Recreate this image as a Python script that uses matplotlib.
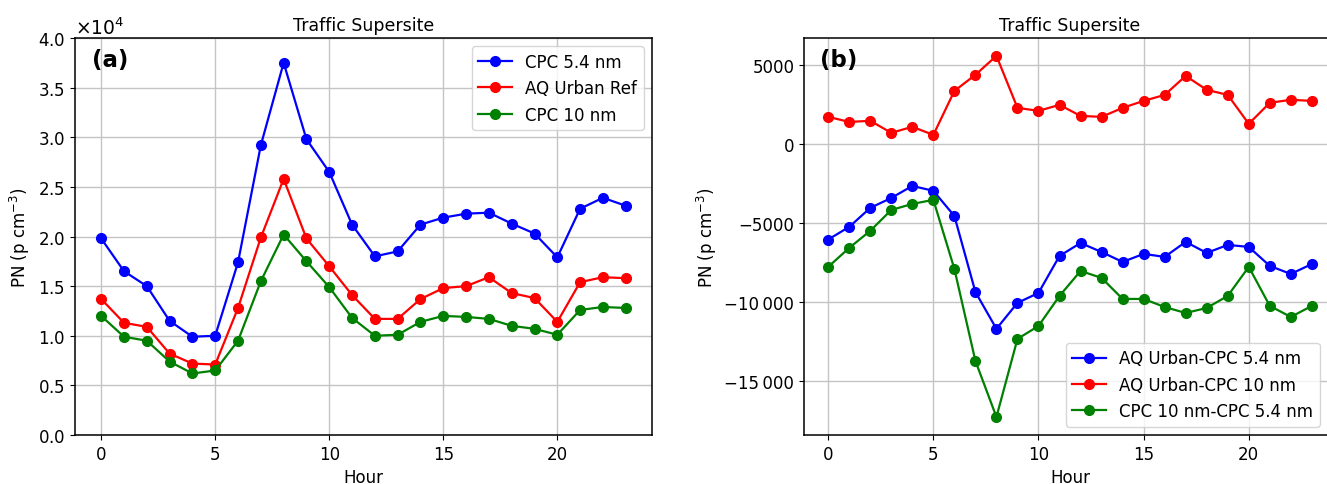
import numpy as np
import matplotlib
matplotlib.use("Agg")
import matplotlib.pyplot as plt
from matplotlib.ticker import FuncFormatter, MultipleLocator

hours = list(range(24))

# panel (a): hourly mean particle number
cpc_54 = [19800, 16500, 15000, 11500, 9900, 10000, 17400, 29200, 37500, 29800, 26500, 21200,
          18000, 18500, 21200, 21900, 22300, 22400, 21300, 20300, 17900, 22800, 23900, 23100]
aq_urban = [13700, 11300, 10900, 8200, 7200, 7100, 12800, 19900, 25800, 19800, 17000, 14100,
            11700, 11700, 13700, 14800, 15000, 15900, 14300, 13800, 11400, 15400, 15900, 15800]
cpc_10 = [12000, 9900, 9500, 7400, 6200, 6500, 9500, 15500, 20200, 17500, 14900, 11800,
          10000, 10100, 11400, 12000, 11900, 11700, 11000, 10700, 10100, 12600, 12900, 12800]

# panel (b): differences
aq_minus_54 = [-6050, -5250, -4050, -3420, -2660, -2970, -4560, -9370, -11700, -10060, -9430, -7090,
               -6270, -6840, -7470, -6960, -7150, -6200, -6900, -6390, -6520, -7720, -8230, -7600]
aq_minus_10 = [1710, 1390, 1460, 700, 1080, 570, 3350, 4370, 5570, 2280, 2090, 2470,
               1770, 1710, 2280, 2720, 3100, 4300, 3420, 3100, 1270, 2600, 2790, 2720]
c10_minus_54 = [-7780, -6580, -5500, -4180, -3800, -3540, -7910, -13730, -17280, -12340, -11520, -9620,
                -8040, -8480, -9810, -9810, -10320, -10700, -10380, -9620, -7780, -10250, -10950, -10250]

plt.rcParams['font.size'] = 12
plt.rcParams['axes.linewidth'] = 1.1

fig = plt.figure(figsize=(13.27, 4.85), dpi=100)
ax1 = fig.add_axes([0.0565, 0.101, 0.4348, 0.8186])
ax2 = fig.add_axes([0.6059, 0.101, 0.4009, 0.8186])

kw = dict(marker='o', markersize=7, linewidth=1.6)

# left panel
ax1.plot(hours, cpc_54, color='blue', label='CPC 5.4 nm', **kw)
ax1.plot(hours, aq_urban, color='red', label='AQ Urban Ref', **kw)
ax1.plot(hours, cpc_10, color='green', label='CPC 10 nm', **kw)
ax1.set_ylim(0, 40000)
ax1.yaxis.set_major_locator(MultipleLocator(5000))
ax1.ticklabel_format(axis='y', style='sci', scilimits=(4, 4), useMathText=True)
ax1.yaxis.get_offset_text().set_fontsize(13.5)
ax1.set_title('Traffic Supersite', fontsize=12.5)
ax1.set_xlabel('Hour')
ax1.set_ylabel('PN (p cm$^{-3}$)')
ax1.grid(True, color='#c4c4c4', linewidth=1)
ax1.legend(loc='upper right')
ax1.text(0.03, 0.975, '(a)', transform=ax1.transAxes, fontsize=16.5, fontweight='bold', va='top')


def fmt(v, pos):
    v = int(round(v))
    s = f"{abs(v)}"
    if abs(v) >= 10000:
        s = s[:-3] + "\u2009" + s[-3:]
    return ("\u2212" if v < 0 else "") + s


# right panel
ax2.plot(hours, aq_minus_54, color='blue', label='AQ Urban-CPC 5.4 nm', **kw)
ax2.plot(hours, aq_minus_10, color='red', label='AQ Urban-CPC 10 nm', **kw)
ax2.plot(hours, c10_minus_54, color='green', label='CPC 10 nm-CPC 5.4 nm', **kw)
ax2.set_ylim(-18420, 6700)
ax2.yaxis.set_major_locator(MultipleLocator(5000))
ax2.yaxis.set_major_formatter(FuncFormatter(fmt))
ax2.set_title('Traffic Supersite', fontsize=12.5)
ax2.set_xlabel('Hour')
ax2.set_ylabel('PN (p cm$^{-3}$)')
ax2.grid(True, color='#c4c4c4', linewidth=1)
ax2.legend(loc='lower right', bbox_to_anchor=(0.985, 0.0))
ax2.text(0.03, 0.975, '(b)', transform=ax2.transAxes, fontsize=16.5, fontweight='bold', va='top')

for ax in (ax1, ax2):
    ax.xaxis.set_major_locator(MultipleLocator(5))

fig.savefig('out.png', dpi=100)
